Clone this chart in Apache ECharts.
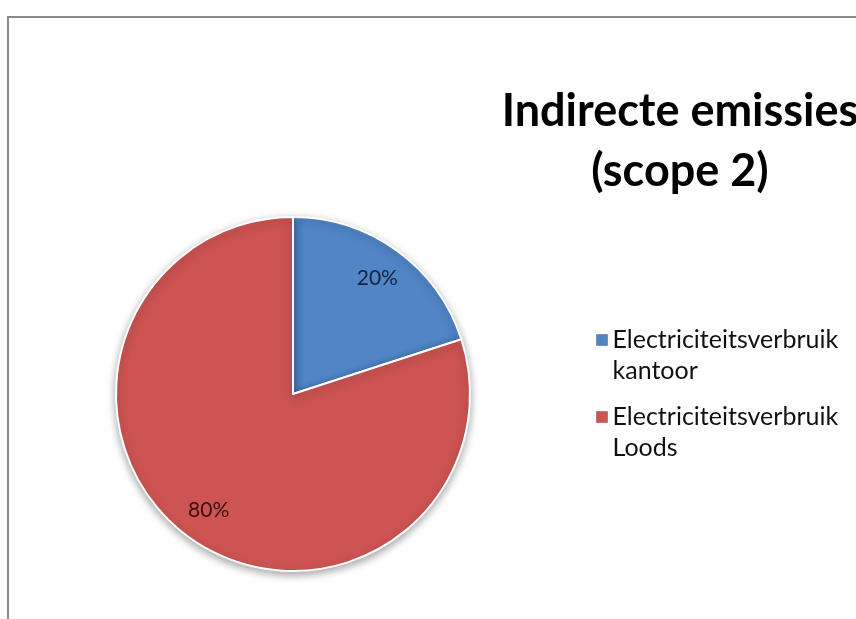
<!DOCTYPE html>
<html>
<head>
<meta charset="utf-8">
<script src="https://cdn.jsdelivr.net/npm/echarts@6/dist/echarts.min.js"></script>
<style>html,body{margin:0;padding:0;background:#fff}#c{width:856px;height:619px}</style>
</head>
<body>
<div id="c"></div>
<script>
const titleLines = ['Indirecte emissies', '(scope 2)'];
const categories = ['Electriciteitsverbruik kantoor', 'Electriciteitsverbruik Loods'];
const legendLabels = ['Electriciteitsverbruik\nkantoor', 'Electriciteitsverbruik\nLoods'];
const values = [20, 80];
const colors = ['#5085C6', '#CD5452'];
const labelColors = ['#15233d', '#3a0f0f'];

const chart = echarts.init(document.getElementById('c'));
const data = categories.map((n, i) => ({name: n, value: values[i], itemStyle: {color: colors[i]}}));
const LH = 31;
chart.setOption({
  animation: false,
  graphic: [
    {type: 'rect', shape: {x: 8, y: 17, width: 1000, height: 800}, style: {fill: 'none', stroke: '#8a8a8a', lineWidth: 2}, z: -1},
    {type: 'text', x: 680, y: 111, style: {text: titleLines[0], font: 'bold 45px Lato', fill: '#000', textAlign: 'center', textVerticalAlign: 'middle'}},
    {type: 'text', x: 680, y: 171, style: {text: titleLines[1], font: 'bold 45px Lato', fill: '#000', textAlign: 'center', textVerticalAlign: 'middle'}}
  ],
  legend: {
    orient: 'vertical', left: 591, top: 335 - 1.5 * LH, itemWidth: 11, itemHeight: 11, itemGap: 77 - 3 * LH, icon: 'rect',
    itemStyle: {borderColor: 'rgba(0,0,0,0.25)', borderWidth: 1},
    data: categories,
    formatter: name => '\n' + legendLabels[categories.indexOf(name)],
    textStyle: {fontFamily: 'Lato', fontSize: 25, color: '#111', lineHeight: LH}
  },
  series: [
    {
      type: 'pie', center: [293, 394], radius: 177, startAngle: 90, clockwise: true,
      label: {show: false}, labelLine: {show: false},
      itemStyle: {borderColor: '#fff', borderWidth: 2, shadowBlur: 8, shadowColor: 'rgba(0,0,0,0.35)', shadowOffsetY: 3},
      emphasis: {disabled: true},
      data: data
    },
    {
      type: 'pie', center: [293, 394], radius: [104, 177], startAngle: 90, clockwise: true, silent: true,
      itemStyle: {color: 'rgba(0,0,0,0)', borderWidth: 0}, labelLine: {show: false},
      label: {show: true, position: 'inside', formatter: '{d}%', fontFamily: 'Lato', fontSize: 21},
      emphasis: {disabled: true},
      data: categories.map((n, i) => ({name: n, value: values[i], label: {color: labelColors[i]}}))
    }
  ]
});
</script>
</body>
</html>
